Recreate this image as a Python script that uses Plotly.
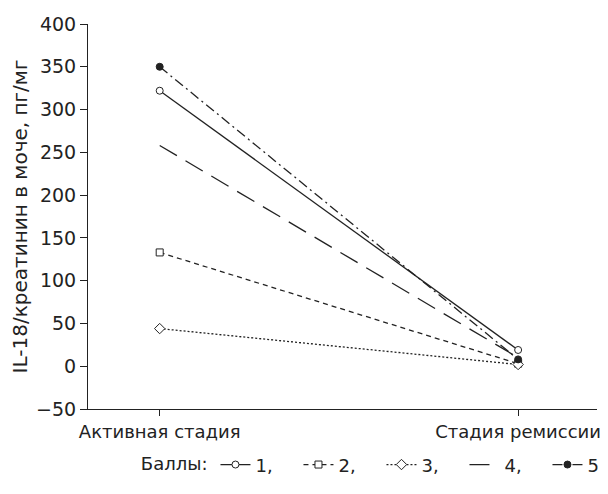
import plotly.graph_objects as go

categories = ["Активная стадия", "Стадия ремиссии"]
series_names = ["1,", "2,", "3,", "4,", "5"]
s1 = [322, 19]
s2 = [133, 3]
s3 = [44, 2]
s4 = [258, 10]
s5 = [350, 8]
y_ticks = [-50, 0, 50, 100, 150, 200, 250, 300, 350, 400]

C = "#222222"
x = [0, 1]
fig = go.Figure()
styles = [
    (s1, "solid", "circle", "white", 7),
    (s2, "5px,4px", "square", "white", 7),
    (s3, "2px,2px", "diamond", "white", 8),
    (s4, "20px,10px", None, None, 0),
    (s5, "10px,4px,2px,4px", "circle", C, 7),
]
for name, (vals, dash, sym, fill, size) in zip(series_names, styles):
    mode = "lines+markers" if sym else "lines"
    fig.add_trace(go.Scatter(
        x=x, y=vals, name=name, mode=mode,
        line=dict(color=C, width=1.3, dash=dash),
        marker=dict(symbol=sym or "circle", size=size, color=fill or C,
                    line=dict(color=C, width=1)),
    ))

fig.update_layout(
    width=600, height=486,
    margin=dict(l=80, r=11, t=16, b=85, autoexpand=False),
    paper_bgcolor="white", plot_bgcolor="white",
    font=dict(family="DejaVu Sans, sans-serif", size=19, color=C),
    showlegend=True,
    legend=dict(orientation="h", x=0.628, xanchor="center", xref="container",
                y=0.06, yanchor="middle", yref="container",
                title=dict(text="Баллы:", side="left", font=dict(size=18)), font=dict(size=18),
                entrywidth=38, entrywidthmode="pixels", tracegroupgap=0),
    xaxis=dict(range=[-0.2, 1.22], tickvals=x, ticktext=categories, automargin=False,
               showline=True, linecolor=C, linewidth=1, ticks="outside", ticklen=6,
               tickcolor=C, showgrid=False, zeroline=False, tickfont=dict(size=18)),
    yaxis=dict(range=[-50, 400], tickvals=y_ticks, showline=True, linecolor=C, linewidth=1,
               ticks="outside", ticklen=7, tickcolor=C, showgrid=False, zeroline=False,
               tickfont=dict(size=19), automargin=False,
               title=dict(text="IL-18/креатинин в моче, пг/мг", font=dict(size=20), standoff=12)),
)
fig.write_html("out.html")
